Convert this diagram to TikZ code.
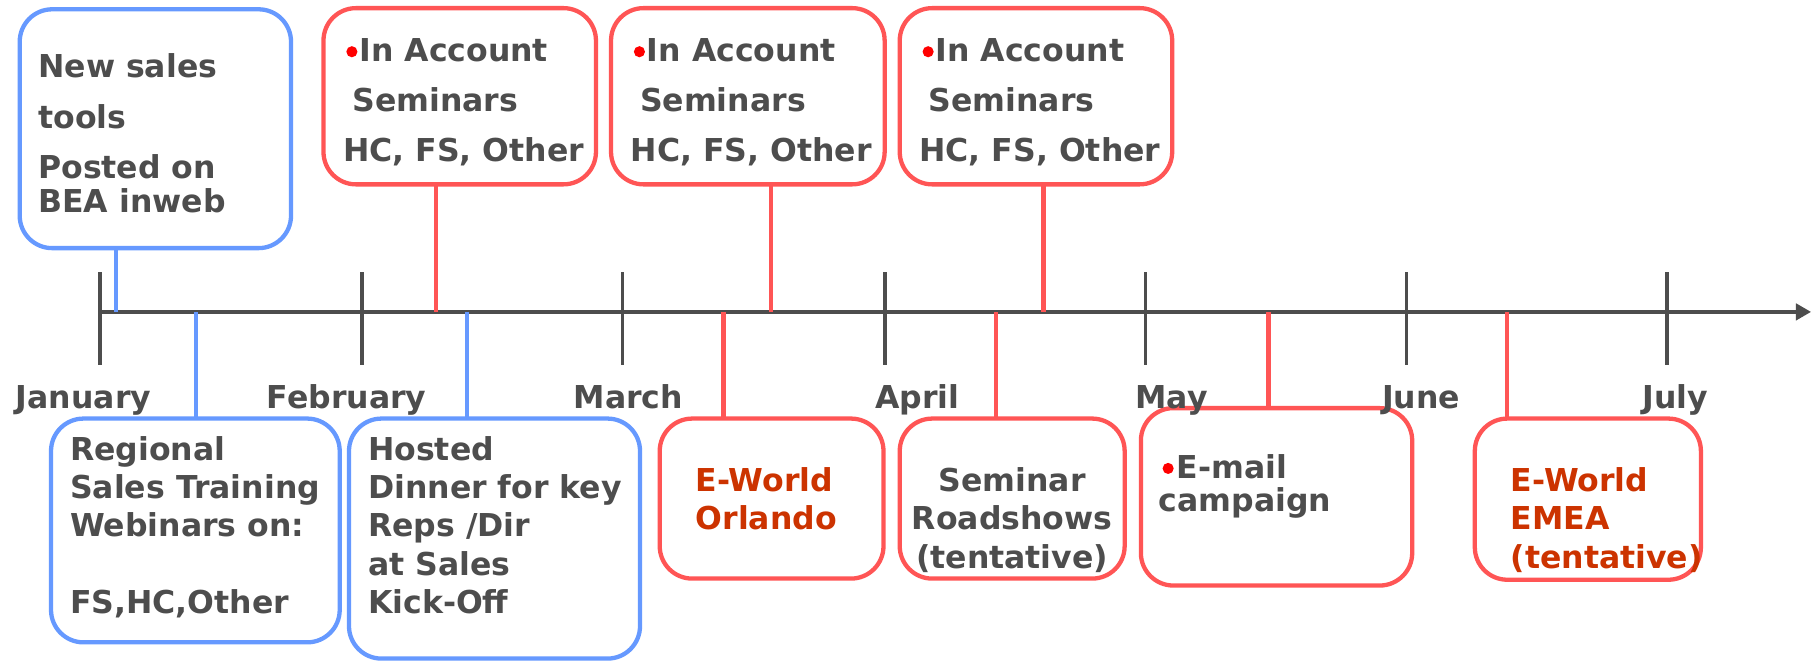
\documentclass[tikz,border=0pt]{standalone}
\usepackage{fontspec}
\setmainfont{DejaVu Sans}
\usetikzlibrary{arrows.meta,fit}
\definecolor{ink}{HTML}{4D4D4D}
\definecolor{boxblue}{HTML}{6699FF}
\definecolor{boxred}{HTML}{FF5555}
\definecolor{evred}{HTML}{CC3300}
\definecolor{dotred}{HTML}{FF0000}
\pgfdeclarelayer{background}
\pgfsetlayers{background,main}
\begin{document}
\begin{tikzpicture}[x=0.5pt,y=-0.5pt,
  lbl/.style={font=\bfseries\fontsize{13.6}{16}\selectfont, text=ink, inner sep=0pt, outer sep=0pt},
  ln/.style={lbl, anchor=base west},
  lnc/.style={lbl, anchor=base},
  evt/.style={ln, text=evred},
  bluebox/.style={draw=boxblue, line width=1.85pt, rounded corners=14pt, fill=white, inner sep=0pt, outer sep=0pt},
  redbox/.style={bluebox, draw=boxred},
  blueline/.style={draw=boxblue, line width=1.85pt},
  redline/.style={draw=boxred, line width=1.85pt},
  axisline/.style={draw=ink, line width=1.5pt},
  tickline/.style={draw=ink, line width=1.6pt},
  bulletdot/.style={circle, fill=dotred, inner sep=0pt, outer sep=0pt, minimum size=4.8pt},
]
\useasboundingbox (0,0) rectangle (1568,570);

% anchor points on the axis
\coordinate (ax0) at (86,269);
\coordinate (ax1) at (1562,269);
\coordinate (cB1) at (100,269);
\coordinate (cR1) at (376,269);
\coordinate (cR2) at (665,269);
\coordinate (cR3) at (900,269);
\coordinate (cReg) at (169,269);
\coordinate (cHos) at (403,269);
\coordinate (cOrl) at (624,269);
\coordinate (cRoad) at (859,269);
\coordinate (cMail) at (1094,269);
\coordinate (cEmea) at (1300,269);

% boxes
\path
  node[bluebox, fit={(17,8) (251,214)}] (b1) {}
  node[redbox, fit={(279,7) (514,159)}] (r1) {}
  node[redbox, fit={(527,7) (763,159)}] (r2) {}
  node[redbox, fit={(776,7) (1011,159)}] (r3) {}
  node[bluebox, fit={(44,361) (293,554)}] (reg) {}
  node[bluebox, fit={(301,361) (552,568)}] (hos) {}
  node[redbox, fit={(569,361) (762,499)}] (orl) {}
  node[redbox, fit={(776,361) (970,499)}] (road) {}
  node[redbox, fit={(984,352) (1218,505)}] (mail) {}
  node[redbox, fit={(1272,361) (1467,500)}] (emea) {};

\begin{pgfonlayer}{background}
\fill[white] (0,0) rectangle (1568,570);
% axis and ticks
\draw[axisline,-{Triangle[length=6.5pt,width=7pt]}] (ax0) -- (ax1);
\foreach \x/\n in {86/jan,312/feb,537/mar,763/apr,988/may,1213/jun,1438/jul}{
  \coordinate (t\n) at (\x,269);
  \draw[tickline] (t\n) ++(0,-34) -- ++(0,80);
}
% connectors
\draw[blueline] (b1.south -| cB1) -- (cB1);
\draw[redline] (r1.south -| cR1) -- (cR1);
\draw[redline] (r2.south -| cR2) -- (cR2);
\draw[redline] (r3.south -| cR3) -- (cR3);
\draw[blueline] (cReg) -- (cReg |- reg.north);
\draw[blueline] (cHos) -- (cHos |- hos.north);
\draw[redline] (cOrl) -- (cOrl |- orl.north);
\draw[redline] (cRoad) -- (cRoad |- road.north);
\draw[redline] (cMail) -- (cMail |- mail.north);
\draw[redline] (cEmea) -- (cEmea |- emea.north);
\end{pgfonlayer}

% box 1
\node[ln] (b1l1) at (33,67) {New sales};
\node[ln] (b1l2) at (33,111) {tools};
\node[ln] (b1l3) at (33,154) {Posted on};
\node[ln] (b1l4) at (33,183.5) {BEA inweb};

% seminar boxes
\foreach \L/\n in {279/a,527/b,776/c}{
  \node[bulletdot] (dot\n) at (\L+24.5,44.6) {};
  \node[ln] (s\n1) at (\L+31,53) {In Account};
  \node[ln] (s\n2) at (\L+25,96) {Seminars};
  \node[ln] (s\n3) at (\L+17,139.5) {HC, FS, Other};
}

% regional
\node[ln] (rg1) at (60.5,396.8) {Regional};
\node[ln] (rg2) at (60.5,429.8) {Sales Training};
\node[ln] (rg3) at (60.5,462.9) {Webinars on:};
\node[ln] (rg4) at (60.5,529) {FS,HC,Other};

% hosted
\node[ln] (hs1) at (317.5,396.8) {Hosted};
\node[ln] (hs2) at (317.5,429.8) {Dinner for key};
\node[ln] (hs3) at (317.5,462.9) {Reps /Dir};
\node[ln] (hs4) at (317.5,496) {at Sales};
\node[ln] (hs5) at (317.5,529) {Kick-Off};

% e-world orlando
\node[evt] (or1) at (600,424) {E-World};
\node[evt] (or2) at (600,457) {Orlando};

% roadshows
\node[lnc] (rd1) at (873,424) {Seminar};
\node[lnc] (rd2) at (873,457) {Roadshows};
\node[lnc] (rd3) at (873,490) {(tentative)};

% e-mail
\node[bulletdot] (dotm) at (1007.5,404) {};
\node[ln] (em1) at (1015,412.6) {E-mail};
\node[ln] (em2) at (999.5,441.3) {campaign};

% e-world emea
\node[evt] (ee1) at (1303,424) {E-World};
\node[evt] (ee2) at (1303,457) {EMEA};
\node[evt] (ee3) at (1303,490) {(tentative)};

% month labels
\node[lnc] (mjan) at (72,352) {January};
\node[lnc] (mfeb) at (299,352) {February};
\node[lnc] (mmar) at (542,352) {March};
\node[lnc] (mapr) at (791,352) {April};
\node[lnc] (mmay) at (1010.5,352) {May};
\node[lnc] (mjun) at (1225.7,352) {June};
\node[lnc] (mjul) at (1444.8,352) {July};
\end{tikzpicture}
\end{document}
